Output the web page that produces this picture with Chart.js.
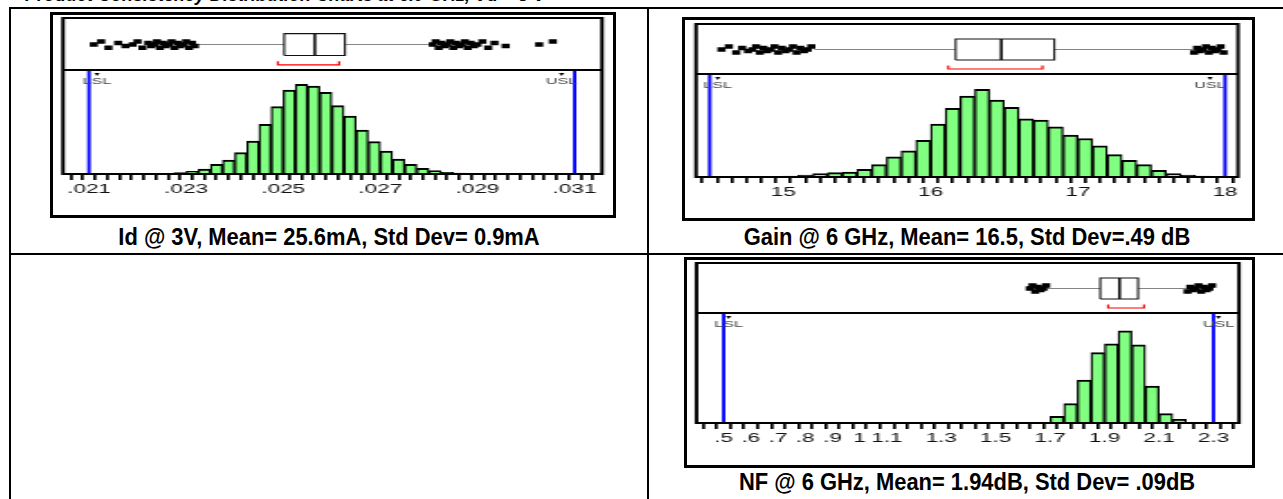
<!DOCTYPE html>
<html>
<head>
<meta charset="utf-8">
<script src="https://cdn.jsdelivr.net/npm/chart.js@4.4.1/dist/chart.umd.min.js"></script>
<style>
  body { margin: 0; background: #fff; width: 1283px; height: 499px; overflow: hidden; position: relative;
         font-family: "Liberation Sans", Arial, sans-serif; }
  .rule { position: absolute; background: #000; }
  .panel { position: absolute; }
  .panel canvas { position: absolute; left: 0; top: 0; }
  .frame { position: absolute; left: 0; top: 0; right: 0; bottom: 0; border: 3px solid #000; box-sizing: border-box; }
  .cap { position: absolute; font-weight: bold; font-size: 24px; line-height: 24px; white-space: nowrap; color: #000; }
  #title { position: absolute; left: 25px; top: -14px; font: italic bold 18px/18px "Liberation Sans", Arial, sans-serif; white-space: nowrap; }
</style>
</head>
<body>
<div id="title">Product Consistency Distribution Charts at 6.0 GHz, Vd = 3 V</div>

<div class="rule" style="left:9px;top:7px;width:1274px;height:2px"></div>
<div class="rule" style="left:9px;top:7px;width:2px;height:492px"></div>
<div class="rule" style="left:647px;top:7px;width:2px;height:492px"></div>
<div class="rule" style="left:9px;top:253px;width:1274px;height:2px"></div>

<div class="cap" id="capId" style="left:329px;top:225px">Id @ 3V, Mean= 25.6mA, Std Dev= 0.9mA</div>
<div class="cap" style="left:967px;top:225px">Gain @ 6 GHz, Mean= 16.5, Std Dev=.49 dB</div>
<div class="cap" style="left:967px;top:470px">NF @ 6 GHz, Mean= 1.94dB, Std Dev= .09dB</div>

<script>
// the old JMP screenshots were stretched sideways, so the canvases are too
const STRETCH = 1.8;

const specNames = ['LSL', 'USL'];

// Id @ 3V (A)
const idBins = [0.02275, 0.0230, 0.02325, 0.0235, 0.02375, 0.0240, 0.02425, 0.0245, 0.02475, 0.0250, 0.02525, 0.0255,
                0.02575, 0.0260, 0.02625, 0.0265, 0.02675, 0.0270, 0.02725, 0.0275, 0.02775, 0.0280, 0.02825, 0.0285];
const idCounts = [4, 8, 15, 29, 42, 64, 99, 149, 202, 252, 269, 264, 245, 205, 174, 132, 97, 69, 45, 29, 17, 10, 5, 3];
const idQuartiles = [0.02502, 0.02565, 0.02627];
const idWhiskers = [0.02318, 0.02803];
const idShortHalf = [0.02489, 0.02615];
const idOutliers = [0.0211, 0.02125, 0.0214, 0.0216, 0.02175, 0.0219, 0.0220, 0.0221,
                    0.02222, 0.02228, 0.02234, 0.0224, 0.02246, 0.02252, 0.02258, 0.02264, 0.0227, 0.02276,
                    0.02282, 0.02288, 0.02294, 0.0230, 0.02306, 0.02312, 0.02318,
                    0.02808, 0.02814, 0.0282, 0.02826, 0.02832, 0.02838, 0.02844, 0.0285, 0.02856, 0.02862,
                    0.02868, 0.02874, 0.0288, 0.02886, 0.02893, 0.0290, 0.0291, 0.02922, 0.02935, 0.02958,
                    0.03027, 0.03055];
const idSpecs = [0.021, 0.031];
const idRange = [0.020465, 0.031564];
const idTickStep = 0.00025;
const idTickValues = [0.021, 0.023, 0.025, 0.027, 0.029, 0.031];
const idTickLabels = ['.021', '.023', '.025', '.027', '.029', '.031'];
const idCountMax = 312;

// Gain @ 6 GHz (dB)
const gainBins = [14.9, 15.0, 15.1, 15.2, 15.3, 15.4, 15.5, 15.6, 15.7, 15.8, 15.9, 16.0, 16.1, 16.2, 16.3,
                  16.4, 16.5, 16.6, 16.7, 16.8, 16.9, 17.0, 17.1, 17.2, 17.3, 17.4, 17.5, 17.6, 17.7, 17.8];
const gainCounts = [2, 3, 6, 10, 13, 15, 23, 37, 60, 78, 110, 158, 205, 242, 262,
                    230, 208, 174, 170, 150, 125, 115, 93, 67, 50, 37, 20, 10, 6, 3];
const gainQuartiles = [16.17, 16.48, 16.84];
const gainWhiskers = [15.21, 17.78];
const gainShortHalf = [16.12, 16.76];
const gainOutliers = [14.58, 14.63, 14.68, 14.72, 14.76,
                      14.79, 14.815, 14.84, 14.865, 14.89, 14.915, 14.94, 14.965, 14.99, 15.015, 15.04,
                      15.065, 15.09, 15.115, 15.14, 15.165, 15.19,
                      17.79, 17.81, 17.83, 17.85, 17.87, 17.89, 17.91, 17.93, 17.95, 17.97, 17.99];
const gainSpecs = [14.5, 18.0];
const gainRange = [14.407, 18.088];
const gainTickStep = 0.1;
const gainTickValues = [15, 16, 17, 18];
const gainTickLabels = ['15', '16', '17', '18'];
const gainCountMax = 308;

// NF @ 6 GHz (dB)
const nfBins = [1.70, 1.75, 1.80, 1.85, 1.90, 1.95, 2.00, 2.05, 2.10, 2.15];
const nfCounts = [20, 58, 128, 210, 236, 275, 233, 110, 28, 11];
const nfQuartiles = [1.884, 1.955, 2.023];
const nfWhiskers = [1.69, 2.20];
const nfShortHalf = [1.913, 2.045];
const nfOutliers = [1.625, 1.635, 1.645, 1.655, 1.665, 1.675, 1.685,
                    2.205, 2.215, 2.225, 2.235, 2.245, 2.255, 2.265, 2.275, 2.285, 2.295];
const nfSpecs = [0.5, 2.3];
const nfRange = [0.4004, 2.394];
const nfTickStep = 0.05;
const nfTickValues = [0.5, 0.6, 0.7, 0.8, 0.9, 1.0, 1.1, 1.3, 1.5, 1.7, 1.9, 2.1, 2.3];
const nfTickLabels = ['.5', '.6', '.7', '.8', '.9', '1', '1.1', '1.3', '1.5', '1.7', '1.9', '2.1', '2.3'];
const nfCountMax = 328;

const JITTER = [0, 0.06, -0.06, 0.03, -0.03];

const hiddenAxis = {
  display: true,
  ticks: { display: false },
  grid: { display: false },
  border: { display: false },
  afterFit: s => { s.width = 0; }
};

const framePlugin = {
  id: 'jmpFrame',
  afterDraw(chart, args, opts) {
    const { ctx, chartArea: a, scales } = chart;
    const yd = scales.yBox.bottom;
    ctx.save();
    ctx.strokeStyle = '#000';
    ctx.lineWidth = 2;
    ctx.strokeRect(a.left, a.top, a.right - a.left, a.bottom - a.top);
    ctx.beginPath();
    ctx.moveTo(a.left, yd);
    ctx.lineTo(a.right, yd);
    ctx.stroke();
    ctx.font = '9px "Liberation Sans"';
    ctx.textAlign = 'center';
    ctx.textBaseline = 'top';
    opts.specs.forEach((v, i) => {
      const x = scales.x.getPixelForValue(v) + opts.labelShift[i];
      ctx.fillStyle = '#000';
      ctx.beginPath();
      ctx.moveTo(x - 1.5, yd + 3);
      ctx.lineTo(x + 1.5, yd + 3);
      ctx.lineTo(x, yd + 6);
      ctx.closePath();
      ctx.fill();
      ctx.fillStyle = '#444';
      ctx.fillText(specNames[i], x, yd + 7);
    });
    ctx.restore();
  }
};

function drawPanel(p) {
  const wrap = document.createElement('div');
  wrap.className = 'panel';
  wrap.style.cssText = `left:${p.left}px;top:${p.top}px;width:${p.w}px;height:${p.h}px`;
  const cv = document.createElement('canvas');
  const iw = Math.round(p.w / STRETCH);
  const k = p.w / iw;
  cv.width = iw;
  cv.height = p.h;
  cv.style.width = p.w + 'px';
  cv.style.height = p.h + 'px';
  wrap.appendChild(cv);
  const fr = document.createElement('div');
  fr.className = 'frame';
  wrap.appendChild(fr);
  document.body.appendChild(wrap);

  const binW = p.bins[1] - p.bins[0];
  const [q1, med, q3] = p.quartiles;
  const mid = 0.49, lo = 0.28, hi = 0.70;
  const line = (pts, color, width, order) => ({
    type: 'line', yAxisID: 'yBox', data: pts, borderColor: color, borderWidth: width,
    pointRadius: 0, fill: false, order
  });
  const spec = v => ({
    type: 'line', yAxisID: 'yHist', data: [{ x: v, y: 0 }, { x: v, y: p.countMax }],
    borderColor: '#0000ff', borderWidth: 1.9, pointRadius: 0, fill: false, order: 1
  });

  new Chart(cv, {
    type: 'bar',
    data: {
      datasets: [
        spec(p.specs[0]),
        spec(p.specs[1]),
        {
          type: 'line', yAxisID: 'yBox', showLine: false,
          data: p.outliers.map((v, i) => ({ x: v, y: mid + JITTER[i % JITTER.length] })),
          pointStyle: 'rect', pointRadius: 3.2, pointBackgroundColor: '#000', pointBorderWidth: 0, order: 2
        },
        line([{ x: q1, y: lo }, { x: q3, y: lo }, { x: q3, y: hi }, { x: q1, y: hi }, { x: q1, y: lo }], '#111', 1.1, 3),
        line([{ x: med, y: lo }, { x: med, y: hi }], '#000', 1.5, 3),
        line([{ x: p.shortHalf[0], y: 0.17 }, { x: p.shortHalf[0], y: 0.1 },
              { x: p.shortHalf[1], y: 0.1 }, { x: p.shortHalf[1], y: 0.17 }], '#ff0000', 1.2, 3),
        line([{ x: p.whiskers[0], y: mid }, { x: q1, y: mid }], '#666', 0.8, 4),
        line([{ x: q3, y: mid }, { x: p.whiskers[1], y: mid }], '#666', 0.8, 4),
        {
          type: 'bar', yAxisID: 'yHist',
          data: p.bins.map((b, i) => ({ x: b + binW / 2, y: p.counts[i] })),
          backgroundColor: '#80ff80', borderColor: '#000',
          borderWidth: { top: 2, left: 1.3, right: 1.3, bottom: 0 }, borderSkipped: false,
          barPercentage: 1, categoryPercentage: 1, order: 5
        }
      ]
    },
    options: {
      responsive: false,
      animation: false,
      devicePixelRatio: 1,
      layout: { padding: { left: p.padL / k, right: p.padR / k, top: p.padT, bottom: 0 } },
      plugins: {
        legend: { display: false },
        tooltip: { enabled: false },
        jmpFrame: { specs: p.specs, labelShift: p.labelShift.map(s => s / k) }
      },
      scales: {
        x: {
          type: 'linear', min: p.range[0], max: p.range[1], bounds: 'data', offset: false,
          afterBuildTicks: s => {
            const out = [];
            const first = Math.ceil(s.min / p.step - 1e-6);
            const last = Math.floor(s.max / p.step + 1e-6);
            for (let j = first; j <= last; j++) out.push({ value: +(j * p.step).toFixed(6) });
            s.ticks = out;
          },
          afterFit: s => { s.height = p.axisH; },
          grid: { display: true, drawOnChartArea: false, drawTicks: true, tickLength: 6, color: '#000', lineWidth: 1.7 },
          border: { display: false },
          ticks: {
            autoSkip: false, maxRotation: 0, padding: 2, color: '#111',
            font: { family: 'Liberation Sans', size: 12.5 },
            callback: v => {
              const i = p.tickValues.findIndex(t => Math.abs(t - v) < p.step / 4);
              return i < 0 ? '' : p.tickLabels[i];
            }
          }
        },
        // later-listed stacked scale is placed on top
        yHist: Object.assign({ type: 'linear', position: 'left', stack: 'panel', stackWeight: p.histH, min: 0, max: p.countMax }, hiddenAxis),
        yBox: Object.assign({ type: 'linear', position: 'left', stack: 'panel', stackWeight: p.boxH, min: 0, max: 1 }, hiddenAxis)
      }
    },
    plugins: [framePlugin]
  });
}

drawPanel({
  left: 50, top: 12, w: 566, h: 206, padL: 13, padR: 14, padT: 6, boxH: 52, histH: 104, axisH: 44,
  bins: idBins, counts: idCounts, quartiles: idQuartiles, whiskers: idWhiskers, shortHalf: idShortHalf,
  outliers: idOutliers, specs: idSpecs, range: idRange, step: idTickStep, tickValues: idTickValues,
  tickLabels: idTickLabels, countMax: idCountMax, labelShift: [8, -13]
});
drawPanel({
  left: 682, top: 17, w: 573, h: 204, padL: 14, padR: 17, padT: 7, boxH: 50, histH: 103, axisH: 44,
  bins: gainBins, counts: gainCounts, quartiles: gainQuartiles, whiskers: gainWhiskers, shortHalf: gainShortHalf,
  outliers: gainOutliers, specs: gainSpecs, range: gainRange, step: gainTickStep, tickValues: gainTickValues,
  tickLabels: gainTickLabels, countMax: gainCountMax, labelShift: [8, -15]
});
drawPanel({
  left: 684, top: 257, w: 571, h: 211, padL: 12.5, padR: 16, padT: 6, boxH: 50, histH: 110, axisH: 45,
  bins: nfBins, counts: nfCounts, quartiles: nfQuartiles, whiskers: nfWhiskers, shortHalf: nfShortHalf,
  outliers: nfOutliers, specs: nfSpecs, range: nfRange, step: nfTickStep, tickValues: nfTickValues,
  tickLabels: nfTickLabels, countMax: nfCountMax, labelShift: [5, 5]
});

// captions use a condensed bold face; squeeze them to the reference width
const fit = 421 / document.getElementById('capId').offsetWidth;
document.querySelectorAll('.cap').forEach(c => {
  c.style.transform = `translateX(-50%) scaleX(${fit})`;
});
</script>
</body>
</html>
